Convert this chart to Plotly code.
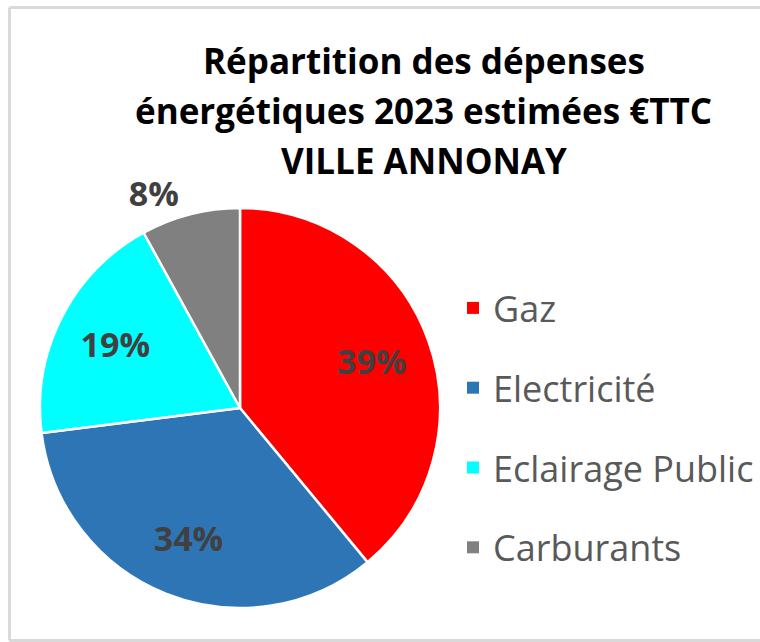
import plotly.graph_objects as go

W, H = 760, 642

categories = ["Gaz", "Electricité", "Eclairage Public", "Carburants"]
values = [39, 34, 19, 8]
colors = ["#FF0000", "#2E75B6", "#00FFFF", "#808080"]
text_positions = ["inside", "inside", "inside", "outside"]
title_lines = ["Répartition des dépenses", "énergétiques 2023 estimées €TTC", "VILLE ANNONAY"]

FONT = "Open Sans"

def px_x(x):
    return x / W

def px_y(y):
    return 1 - y / H

pie_domain = dict(x=[px_x(40), px_x(440)], y=[px_y(608), px_y(208)])

fig = go.Figure()

# coloured slices
fig.add_trace(go.Pie(
    labels=categories,
    values=values,
    sort=False,
    direction="clockwise",
    rotation=0,
    marker=dict(colors=colors, line=dict(color="white", width=2.5)),
    textinfo="none",
    domain=pie_domain,
    showlegend=False,
    hoverinfo="label+percent",
))

# transparent ring carrying the percentage labels (places them at ~0.7 r)
fig.add_trace(go.Pie(
    labels=categories,
    values=values,
    sort=False,
    direction="clockwise",
    rotation=0,
    hole=0.4,
    marker=dict(colors=["rgba(0,0,0,0)"] * len(values), line=dict(width=0)),
    textinfo="percent",
    texttemplate="<b>%{percent:.0%}</b>",
    textposition=text_positions,
    insidetextorientation="horizontal",
    textfont=dict(family=FONT, size=34, color="#404040"),
    outsidetextfont=dict(family=FONT, size=34, color="#404040"),
    domain=pie_domain,
    showlegend=False,
    hoverinfo="skip",
))

# legend entries (one group per category so the spacing can be set)
for name, col in zip(categories, colors):
    fig.add_trace(go.Scatter(
        x=[None], y=[None], mode="markers", name=name,
        marker=dict(symbol="square", size=16, color=col),
        legendgroup=name, showlegend=True,
    ))

for i, line in enumerate(title_lines):
    fig.add_annotation(
        text=f"<b>{line}</b>", x=px_x(424), y=px_y([61, 111, 160][i]),
        xref="paper", yref="paper", xanchor="center", yanchor="middle",
        showarrow=False, font=dict(family=FONT, size=35, color="#000000"),
    )

frame = dict(color="#D9D9D9", width=3)
fig.add_shape(type="line", xref="paper", yref="paper",
              x0=px_x(9.5), x1=1, y0=px_y(7.5), y1=px_y(7.5), line=frame)
fig.add_shape(type="line", xref="paper", yref="paper",
              x0=px_x(9.5), x1=px_x(9.5), y0=px_y(7.5), y1=px_y(640.5), line=frame)
fig.add_shape(type="line", xref="paper", yref="paper",
              x0=px_x(9.5), x1=1, y0=px_y(640.5), y1=px_y(640.5), line=frame)

fig.update_layout(
    width=W, height=H,
    margin=dict(l=0, r=0, t=0, b=0),
    paper_bgcolor="white", plot_bgcolor="white",
    xaxis=dict(visible=False), yaxis=dict(visible=False),
    legend=dict(
        x=px_x(453), y=px_y(278), xanchor="left", yanchor="top",
        font=dict(family=FONT, size=36, color="#595959"),
        tracegroupgap=30, itemsizing="constant",
        bgcolor="rgba(0,0,0,0)",
    ),
)

fig.write_html("out.html", config={"displayModeBar": False},
               post_script="document.body.style.margin='0';")
